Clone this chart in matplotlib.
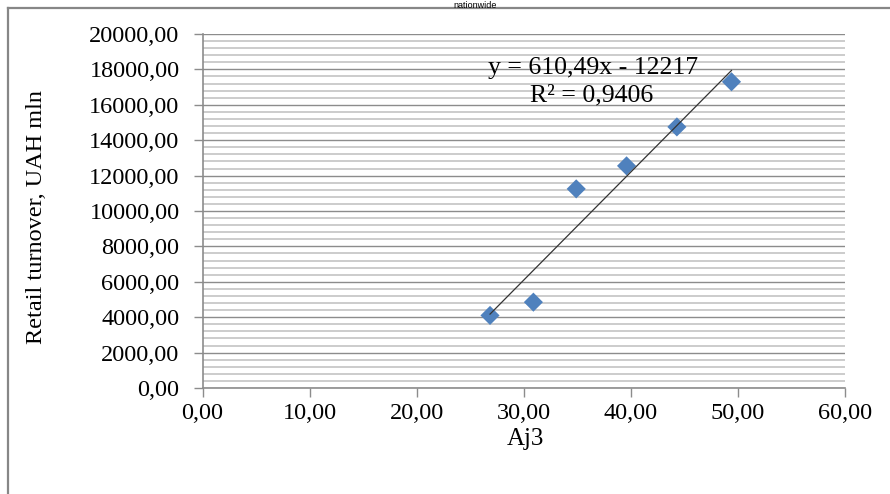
import numpy as np
import matplotlib.pyplot as plt
from matplotlib.lines import Line2D
from matplotlib.ticker import MultipleLocator, FuncFormatter

# data
aj3 = [26.85, 30.9, 34.9, 39.6, 44.3, 49.4]
turnover = [4100, 4850, 11250, 12550, 14750, 17300]
trend_slope = 610.49
trend_intercept = -12217
trend_text = "y = 610,49x - 12217"
r2_text = "R\u00b2 = 0,9406"

plt.rcParams['font.family'] = ['Liberation Serif', 'DejaVu Serif']

W, H = 890, 494
fig = plt.figure(figsize=(W / 100, H / 100), dpi=100)
ax = fig.add_axes([202.5 / W, 1 - 388 / H, (845 - 202.5) / W, (388 - 34) / H])

# chart title (mostly hidden above the frame in the original) and outer frame
fig.text(475 / W, 1 - 7.5 / H, "nationwide", family='Liberation Sans', fontsize=6.5,
         ha='center', va='baseline', color='black')
fig.add_artist(Line2D([8 / W, 1.0], [1 - 8 / H, 1 - 8 / H], transform=fig.transFigure,
                      color='#878787', lw=1.6))
fig.add_artist(Line2D([8 / W, 8 / W], [0.0, 1 - 8 / H], transform=fig.transFigure,
                      color='#878787', lw=1.6))

ax.set_xlim(0, 60)
ax.set_ylim(0, 20000)
ax.xaxis.set_major_locator(MultipleLocator(10))
ax.yaxis.set_major_locator(MultipleLocator(2000))
ax.yaxis.set_minor_locator(MultipleLocator(400))

fmt = FuncFormatter(lambda v, p: f"{v:.2f}".replace('.', ','))
ax.xaxis.set_major_formatter(fmt)
ax.yaxis.set_major_formatter(fmt)

ax.grid(True, axis='y', which='major', color='#8c8c8c', lw=1.0)
ax.grid(True, axis='y', which='minor', color='#c4c4c4', lw=1.2)
ax.set_axisbelow(True)

for s in ['top', 'right']:
    ax.spines[s].set_visible(False)
for s in ['left', 'bottom']:
    ax.spines[s].set_color('#8c8c8c')
    ax.spines[s].set_linewidth(1.2)

ax.tick_params(axis='both', which='major', direction='out', length=6.5, width=1.0,
               color='#8c8c8c', labelsize=17.5)
ax.tick_params(axis='y', which='major', pad=10)
ax.tick_params(axis='x', which='major', pad=4)
ax.tick_params(axis='y', which='minor', length=0)

ax.scatter(aj3, turnover, marker='D', s=95, color='#4f81bd', edgecolors='none', zorder=3)

xs = np.array([min(aj3), max(aj3)])
ax.plot(xs, trend_slope * xs + trend_intercept, color='#333333', lw=0.9, zorder=4)

ax.text(26.7, 18100, trend_text, fontsize=18.5, ha='left', va='center')
ax.text(30.6, 16550, r2_text, fontsize=18.5, ha='left', va='center')

ax.set_xlabel("Aj3", fontsize=18)
ax.xaxis.set_label_coords(0.503, -0.145)
ax.xaxis.label.set_va('center')
ax.set_ylabel("Retail turnover, UAH mln", fontsize=17.5)
ax.yaxis.set_label_coords(-0.258, 0.483)
ax.yaxis.label.set_va('center')

fig.savefig("out.png", dpi=100)
